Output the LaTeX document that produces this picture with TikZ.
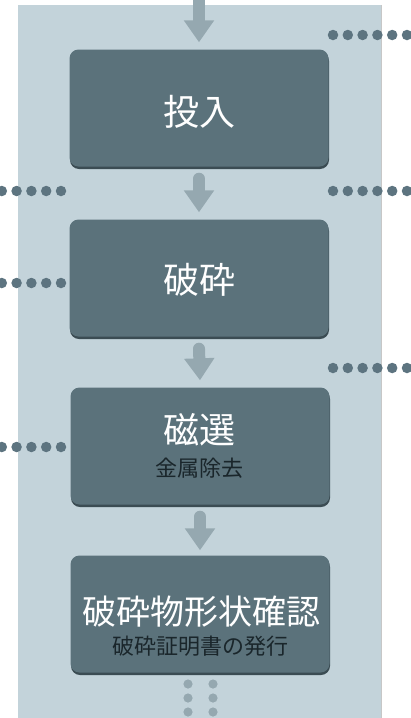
\documentclass[tikz,border=0pt]{standalone}
\usepackage{fontspec}
\newfontfamily\cjk{Noto Sans CJK JP}
\newfontfamily\cjksub[Color=1A262B]{Noto Sans CJK JP}
\usetikzlibrary{arrows.meta}
\definecolor{panel}{HTML}{C3D3DA}
\definecolor{boxc}{HTML}{5B727B}
\definecolor{boxsh}{HTML}{3B4C53}
\definecolor{arrc}{HTML}{95A8B0}
\definecolor{dotc}{HTML}{5D7480}
\definecolor{subtextcol}{rgb}{0.10,0.15,0.17}
\tikzset{
  stepbox/.style={fill=boxc, rounded corners=9pt, minimum width=259pt, minimum height=117pt, inner sep=0pt,
    preaction={fill=boxsh, transform canvas={xshift=0.5pt, yshift=-2.5pt}}},
  maintxt/.style={text=white, font=\cjk\fontsize{36}{40}\selectfont, inner sep=0pt},
  subtxt/.style={text=subtextcol, font=\cjksub\fontsize{22}{24}\selectfont, inner sep=0pt},
  flow/.style={draw=arrc, line width=12pt, line cap=round, -{Triangle[width=29pt,length=22pt]}},
  dotline/.style={draw=dotc, line width=10.5pt, line cap=round, dash pattern=on 0pt off 14.8pt}
}
\begin{document}
\begin{tikzpicture}[x=1pt,y=-1pt]
\useasboundingbox (0,0) rectangle (411,718);
\fill[white] (0,0) rectangle (411,718);
% panel
\fill[panel] (18,5) rectangle (381,718);
\draw[black!22, line width=1pt] (381.5,5) -- (381.5,718);
% boxes
\node[stepbox] (b1) at (199,108) {};
\node[stepbox] (b2) at (199,278) {};
\node[stepbox] (b3) at (200,446) {};
\node[stepbox] (b4) at (200,614) {};
\node[subtxt] (s3) at (199,468) {金属除去};
\node[subtxt] (s4) at (200,646) {破砕証明書の発行};
\node[maintxt] (t1) at (199,112) {投入};
\node[maintxt] (t2) at (199,280) {破砕};
\node[maintxt] (t3) at (199,430) {磁選};
\node[maintxt, font=\cjk\fontsize{34}{38}\selectfont] (t4) at (201,612) {破砕物形状確認};
% arrows
\coordinate (top) at (199,-8);
\path[flow] (top) -- ([yshift=7pt]b1.north);
\path[flow] ([yshift=-12pt]b1.south) -- ([yshift=7pt]b2.north);
\path[flow] ([yshift=-12pt]b2.south) -- ([yshift=7pt]b3.north);
\path[flow] ([yshift=-12pt]b3.south) -- ([yshift=5pt]b4.north);
% bottom dots
\foreach \x in {188,213}{
  \foreach \y in {684,698,712}{
    \fill[arrc] (\x,\y) circle (4.6pt);
  }
}
% dotted leaders
\coordinate (r1a) at (333,35); \coordinate (r1b) at (420,35);
\coordinate (r2a) at (333,191); \coordinate (r2b) at (420,191);
\coordinate (r3a) at (333,368); \coordinate (r3b) at (420,368);
\coordinate (l1a) at (61,191); \coordinate (l1b) at (-10,191);
\coordinate (l2a) at (61,283); \coordinate (l2b) at (-10,283);
\coordinate (l3a) at (61,447); \coordinate (l3b) at (-10,447);
\foreach \a/\b in {r1a/r1b,r2a/r2b,r3a/r3b,l1a/l1b,l2a/l2b,l3a/l3b}{
  \path[dotline] (\a) -- (\b);
}
\end{tikzpicture}
\end{document}
